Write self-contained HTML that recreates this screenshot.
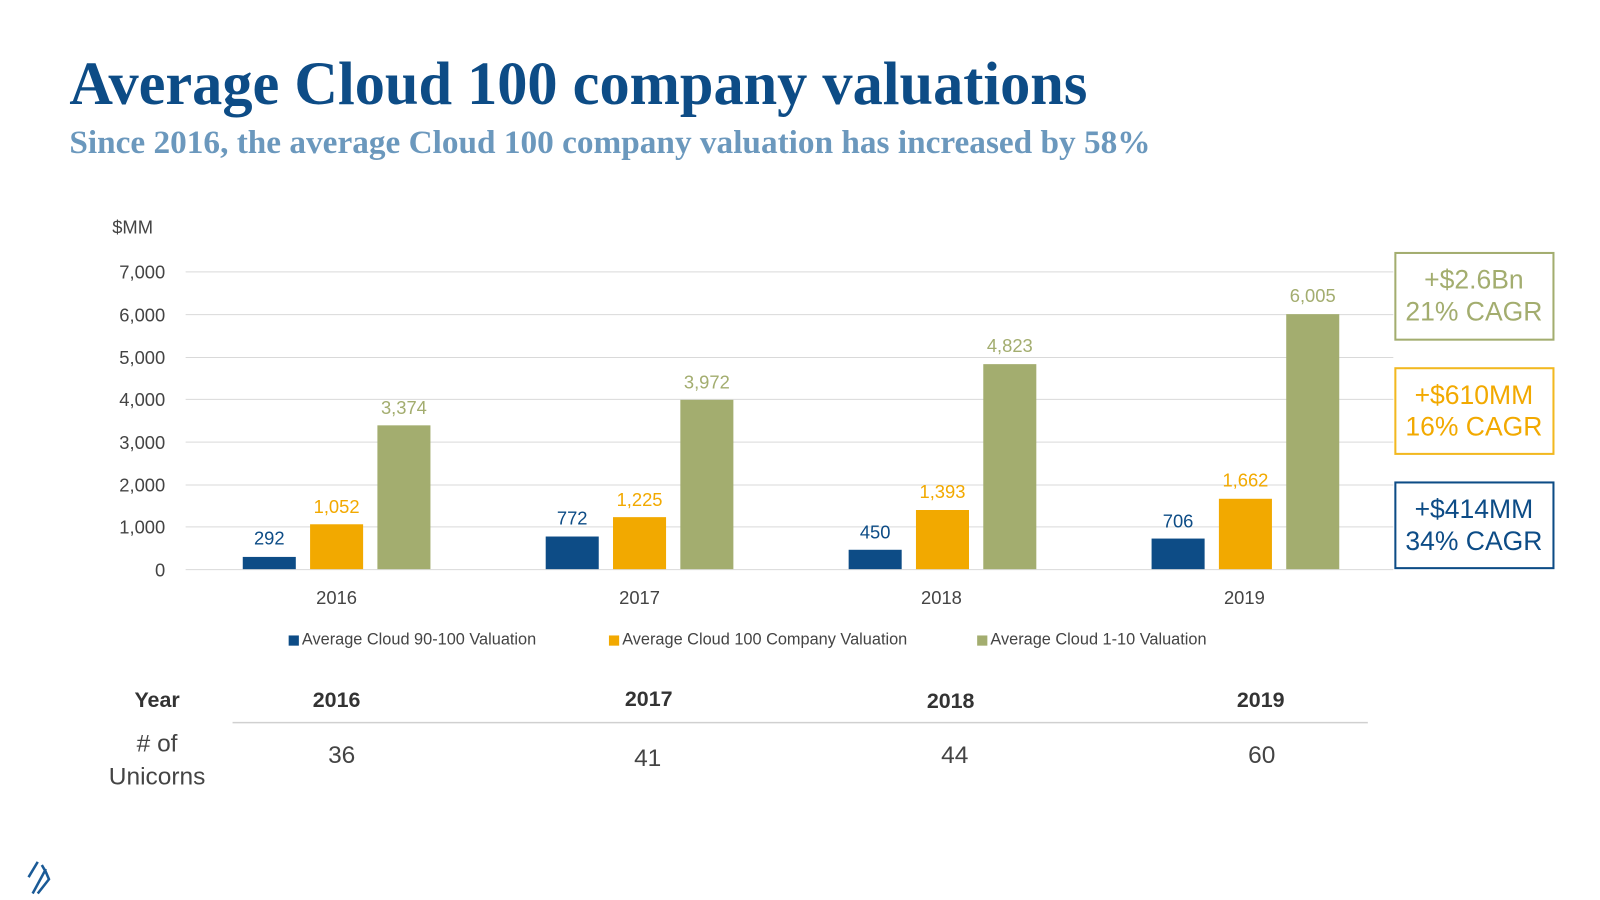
<!DOCTYPE html>
<html><head><meta charset="utf-8"><style>
html,body{margin:0;padding:0;background:#fff;}
svg{display:block;font-family:"Liberation Sans",sans-serif;}
</style></head><body>
<svg width="1600" height="900" viewBox="0 0 1600 900">
<g transform="scale(1.02)">
<text x="68" y="102" font-family="Liberation Serif" font-weight="bold" font-size="60" fill="#0d4c86" textLength="998" lengthAdjust="spacingAndGlyphs">Average Cloud 100 company valuations</text>
<text x="68" y="150" font-family="Liberation Serif" font-weight="bold" font-size="32" fill="#6b98bd" textLength="1060" lengthAdjust="spacingAndGlyphs">Since 2016, the average Cloud 100 company valuation has increased by 58%</text>
<text x="110" y="229" font-size="18" fill="#444">$MM</text>
<g stroke="#d9d9d9" stroke-width="1">
<line x1="182" y1="266.5" x2="1366" y2="266.5"/><line x1="182" y1="308.5" x2="1366" y2="308.5"/><line x1="182" y1="350.5" x2="1366" y2="350.5"/><line x1="182" y1="391.5" x2="1366" y2="391.5"/><line x1="182" y1="433.5" x2="1366" y2="433.5"/><line x1="182" y1="475.5" x2="1366" y2="475.5"/><line x1="182" y1="516.5" x2="1366" y2="516.5"/><line x1="182" y1="558.5" x2="1366" y2="558.5"/>
</g>
<g font-size="18" fill="#444" text-anchor="end">
<text x="162" y="273">7,000</text><text x="162" y="315">6,000</text><text x="162" y="357">5,000</text><text x="162" y="398">4,000</text><text x="162" y="440">3,000</text><text x="162" y="482">2,000</text><text x="162" y="523">1,000</text><text x="162" y="565">0</text>
</g>
<g>
<rect x="238" y="546" width="52" height="12" fill="#0d4c86"/><rect x="304" y="514" width="52" height="44" fill="#f2a900"/><rect x="370" y="417" width="52" height="141" fill="#a3ad6f"/>
<rect x="535" y="526" width="52" height="32" fill="#0d4c86"/><rect x="601" y="507" width="52" height="51" fill="#f2a900"/><rect x="667" y="392" width="52" height="166" fill="#a3ad6f"/>
<rect x="832" y="539" width="52" height="19" fill="#0d4c86"/><rect x="898" y="500" width="52" height="58" fill="#f2a900"/><rect x="964" y="357" width="52" height="201" fill="#a3ad6f"/>
<rect x="1129" y="528" width="52" height="30" fill="#0d4c86"/><rect x="1195" y="489" width="52" height="69" fill="#f2a900"/><rect x="1261" y="308" width="52" height="250" fill="#a3ad6f"/>
</g>
<g font-size="18" text-anchor="middle">
<text x="264" y="534" fill="#0d4c86">292</text><text x="330" y="503" fill="#f2a900">1,052</text><text x="396" y="406" fill="#a3ad6f">3,374</text>
<text x="561" y="514" fill="#0d4c86">772</text><text x="627" y="496" fill="#f2a900">1,225</text><text x="693" y="381" fill="#a3ad6f">3,972</text>
<text x="858" y="528" fill="#0d4c86">450</text><text x="924" y="488" fill="#f2a900">1,393</text><text x="990" y="345" fill="#a3ad6f">4,823</text>
<text x="1155" y="517" fill="#0d4c86">706</text><text x="1221" y="477" fill="#f2a900">1,662</text><text x="1287" y="296" fill="#a3ad6f">6,005</text>
</g>
<g font-size="18" fill="#444" text-anchor="middle">
<text x="330" y="592">2016</text><text x="627" y="592">2017</text><text x="923" y="592">2018</text><text x="1220" y="592">2019</text>
</g>
<g font-size="16" fill="#444">
<rect x="283" y="623" width="10" height="10" fill="#0d4c86"/><text x="296" y="632">Average Cloud 90-100 Valuation</text>
<rect x="597" y="623" width="10" height="10" fill="#f2a900"/><text x="610" y="632">Average Cloud 100 Company Valuation</text>
<rect x="958" y="623" width="10" height="10" fill="#a3ad6f"/><text x="971" y="632">Average Cloud 1-10 Valuation</text>
</g>
<g font-size="26" text-anchor="middle">
<rect x="1368" y="248" width="155" height="85" fill="none" stroke="#a3ad6f" stroke-width="2"/>
<text x="1445" y="283" fill="#a3ad6f">+$2.6Bn</text><text x="1445" y="314" fill="#a3ad6f">21% CAGR</text>
<rect x="1368" y="361" width="155" height="84" fill="none" stroke="#f2b820" stroke-width="2"/>
<text x="1445" y="396" fill="#f2a900">+$610MM</text><text x="1445" y="427" fill="#f2a900">16% CAGR</text>
<rect x="1368" y="473" width="155" height="84" fill="none" stroke="#0d4c86" stroke-width="2"/>
<text x="1445" y="508" fill="#0d4c86">+$414MM</text><text x="1445" y="539" fill="#0d4c86">34% CAGR</text>
</g>
<g font-size="21" fill="#333" text-anchor="middle" font-weight="bold">
<text x="154" y="693">Year</text><text x="330" y="693">2016</text><text x="636" y="692">2017</text><text x="932" y="694">2018</text><text x="1236" y="693">2019</text>
</g>
<line x1="228" y1="708.5" x2="1341" y2="708.5" stroke="#d0d0d0" stroke-width="1.5"/>
<g font-size="24" fill="#444" text-anchor="middle">
<text x="154" y="737"># of</text><text x="154" y="769">Unicorns</text>
<text x="335" y="748">36</text><text x="635" y="751">41</text><text x="936" y="748">44</text><text x="1237" y="748">60</text>
</g>
<g stroke="#1a5a96" stroke-width="2.5" fill="none">
<line x1="28" y1="860" x2="37" y2="845"/><line x1="32" y1="876" x2="45" y2="852"/><path d="M37 876 L48 862 L45 855 L41 848"/>
</g>
</g>
</svg>
</body></html>
